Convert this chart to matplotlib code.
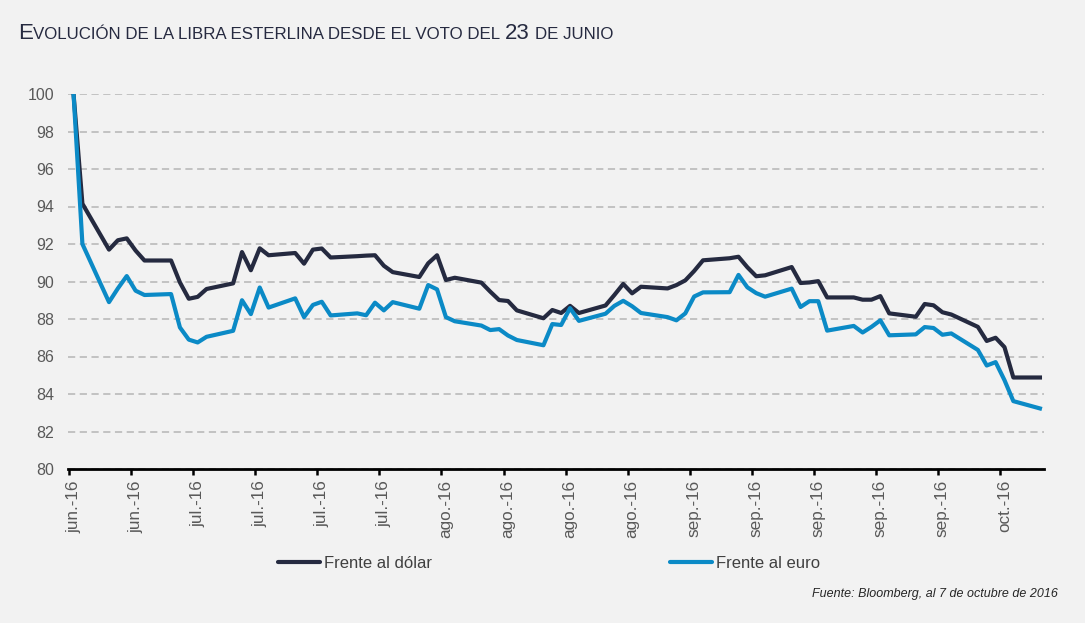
import matplotlib
matplotlib.use("Agg")
import matplotlib.pyplot as plt
import matplotlib.dates as mdates
import pandas as pd
from matplotlib.offsetbox import AnchoredOffsetbox, HPacker, TextArea

plt.rcParams["font.family"] = ["Liberation Sans", "DejaVu Sans"]

# días hábiles del 23 de junio al 10 de octubre de 2016
fechas = pd.bdate_range("2016-06-23", "2016-10-10")

frente_dolar = [
    100.0, 94.15, 91.7, 92.2, 92.3, 91.65,                     # jun
    91.12, 91.12, 89.95, 89.08, 89.18, 89.6, 89.9, 91.57, 90.6, 91.77,
    91.4, 91.52, 90.95, 91.7, 91.76, 91.28, 91.35, 91.38, 91.4, 90.84, 90.5,  # jul
    90.24, 90.97, 91.4, 90.08, 90.2, 89.94, 89.46, 89.01, 88.96, 88.46,
    88.04, 88.48, 88.32, 88.7, 88.32, 88.72, 89.28, 89.87, 89.37, 89.72,
    89.63, 89.81, 90.06,                                       # ago
    90.56, 91.13, 91.24, 91.32, 90.76, 90.28, 90.33, 90.77, 89.92, 89.95,
    90.02, 89.15, 89.15, 89.03, 89.03, 89.22, 88.3, 88.12, 88.8, 88.73,
    88.36, 88.24,                                              # sep
    87.58, 86.83, 87.0, 86.5, 84.88, 84.88,                    # oct
]
frente_euro = [
    100.0, 92.0, 88.9, 89.63, 90.29, 89.51,
    89.28, 89.33, 87.55, 86.9, 86.75, 87.05, 87.37, 89.0, 88.26, 89.68,
    88.61, 89.1, 88.1, 88.75, 88.92, 88.19, 88.3, 88.2, 88.87, 88.46, 88.9,
    88.55, 89.81, 89.58, 88.1, 87.88, 87.65, 87.41, 87.46, 87.12, 86.88,
    86.6, 87.73, 87.68, 88.58, 87.9, 88.28, 88.7, 88.97, 88.68, 88.32,
    88.1, 87.93, 88.3,
    89.2, 89.42, 89.43, 90.35, 89.69, 89.38, 89.19, 89.62, 88.64, 88.95,
    88.95, 87.38, 87.63, 87.28, 87.58, 87.93, 87.13, 87.18, 87.57, 87.52,
    87.16, 87.23,
    86.35, 85.52, 85.7, 84.74, 83.62, 83.23,
]

semanas = pd.date_range("2016-06-23", "2016-10-06", freq="7D")
meses = {6: "jun.", 7: "jul.", 8: "ago.", 9: "sep.", 10: "oct."}
etiquetas = [f"{meses[d.month]}-16" for d in semanas]
y_ticks = list(range(80, 101, 2))

fondo = "#f2f2f2"
color_dolar = "#252a40"
color_euro = "#0b8ac6"
gris = "#595959"

fig = plt.figure(figsize=(10.85, 6.23), dpi=100, facecolor=fondo)
ax = fig.add_axes([68 / 1085, 1 - 469 / 623, 976 / 1085, 375 / 623])
ax.set_facecolor(fondo)

ax.plot(fechas, frente_dolar, color=color_dolar, lw=3, label="Frente al dólar", zorder=3)
ax.plot(fechas, frente_euro, color=color_euro, lw=3, label="Frente al euro", zorder=3)

ax.set_ylim(80, 100)
ax.set_yticks(y_ticks)
ax.tick_params(axis="y", length=0, pad=10, labelsize=11.5, labelcolor=gris)
ax.yaxis.grid(True, linestyle=(0, (4, 2.5)), color="#bfbfbf", lw=1.3)
ax.set_axisbelow(True)

medio_dia = pd.Timedelta(hours=12)
ax.set_xlim(fechas[0] - pd.Timedelta(hours=15), fechas[-1] + pd.Timedelta(hours=11))
ax.set_xticks(semanas)
ax.set_xticklabels(etiquetas, rotation=90, va="top", ha="center")
ax.set_xticks(semanas - medio_dia, minor=True)
ax.tick_params(axis="x", which="major", length=0, pad=8, labelsize=12.3, labelcolor=gris)
ax.tick_params(axis="x", which="minor", length=4, width=1.8, color="black", direction="out")

for lado in ["top", "right", "left"]:
    ax.spines[lado].set_visible(False)
ax.spines["bottom"].set_color("black")
ax.spines["bottom"].set_linewidth(2)

# título en versalitas
color_titulo = "#262a40"
primera = HPacker(
    children=[
        TextArea("E", textprops=dict(size=16, color=color_titulo)),
        TextArea("VOLUCIÓN DE LA LIBRA ESTERLINA DESDE EL VOTO DEL", textprops=dict(size=12.2, color=color_titulo)),
    ],
    align="baseline", pad=0, sep=0,
)
titulo = HPacker(
    children=[
        primera,
        TextArea("23", textprops=dict(size=16, color=color_titulo)),
        TextArea("DE JUNIO", textprops=dict(size=12.2, color=color_titulo)),
    ],
    align="baseline", pad=0, sep=3.7,
)
caja = AnchoredOffsetbox(
    loc="lower left", child=titulo, pad=0, borderpad=0, frameon=False,
    bbox_to_anchor=(18 / 1085, 1 - 44 / 623), bbox_transform=fig.transFigure,
)
fig.add_artist(caja)

leg = fig.legend(
    loc="center", bbox_to_anchor=(549 / 1085, 1 - 563 / 623), ncol=2, frameon=False,
    fontsize=12, handlelength=2.5, handletextpad=0.25, columnspacing=14.3,
)
for txt in leg.get_texts():
    txt.set_color("#404040")
for linea in leg.get_lines():
    linea.set_solid_capstyle("round")

fig.text(1058 / 1085, 1 - 594 / 623, "Fuente: Bloomberg, al 7 de octubre de 2016",
         ha="right", va="center", style="italic", size=9, color="#262626")

fig.savefig("out.png", dpi=100, facecolor=fondo)
